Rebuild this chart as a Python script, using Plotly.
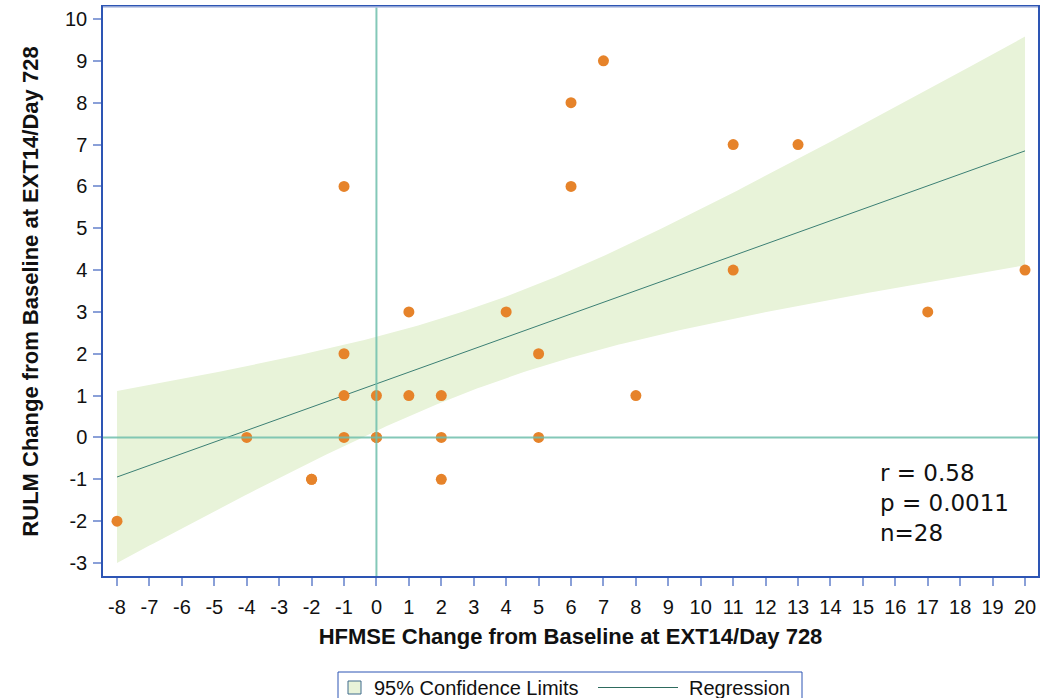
import numpy as np
import plotly.graph_objects as go

# HFMSE change (x) and RULM change (y), n = 28
hfmse = [-8, -4, -2, -2, -1, -1, -1, -1, 0, 0, 0, 1, 1, 2, 2, 2, 4, 5, 5, 6, 6, 7, 8, 11, 11, 13, 17, 20]
rulm = [-2, 0, -1, -1, 6, 2, 1, 0, 1, 0, 0, 3, 1, 1, 0, -1, 3, 2, 0, 8, 6, 9, 1, 7, 4, 7, 3, 4]
x_ticks = list(range(-8, 21))
y_ticks = list(range(-3, 11))
stats_text = ["r = 0.58", "p = 0.0011", "n=28"]
legend_labels = ["95% Confidence Limits", "Regression"]

T_975_DF26 = 2.0555  # Student t quantile for 95% CI, df = n - 2

BAND_COLOR = "#e8f3d9"
REG_COLOR = "#3b7f74"
AXIS_COLOR = "#2d55b4"

x = np.array(hfmse, dtype=float)
y = np.array(rulm, dtype=float)
n = len(x)
xbar, ybar = x.mean(), y.mean()
sxx = ((x - xbar) ** 2).sum()
sxy = ((x - xbar) * (y - ybar)).sum()
slope = sxy / sxx
intercept = ybar - slope * xbar
resid = y - (intercept + slope * x)
s = np.sqrt((resid ** 2).sum() / (n - 2))

xg = np.linspace(x.min(), x.max(), 200)
yg = intercept + slope * xg
se = s * np.sqrt(1.0 / n + (xg - xbar) ** 2 / sxx)
upper = yg + T_975_DF26 * se
lower = yg - T_975_DF26 * se

fig = go.Figure()
fig.add_trace(go.Scatter(
    x=np.concatenate([xg, xg[::-1]]), y=np.concatenate([upper, lower[::-1]]),
    fill="toself", fillcolor=BAND_COLOR, line=dict(width=0, color=BAND_COLOR),
    mode="lines", name=legend_labels[0], hoverinfo="skip", showlegend=False))
fig.add_trace(go.Scatter(
    x=xg, y=yg, mode="lines", line=dict(color=REG_COLOR, width=1),
    name=legend_labels[1], showlegend=False))
fig.add_trace(go.Scatter(
    x=hfmse, y=rulm, mode="markers",
    marker=dict(color="#e6832a", size=11), showlegend=False, name="Data"))

# reference lines at zero, drawn above the markers
fig.add_shape(type="line", xref="x domain", yref="y", x0=0, x1=1, y0=0, y1=0,
              line=dict(color="rgba(110,190,172,0.85)", width=2), layer="above")
fig.add_shape(type="line", xref="x", yref="y domain", x0=0, x1=0, y0=0, y1=1,
              line=dict(color="rgba(110,190,172,0.85)", width=2), layer="above")

# lighter top frame line
fig.add_shape(type="line", xref="paper", yref="paper", x0=0, x1=1, y0=1, y1=1,
              line=dict(color="#b4c0e2", width=1.5), layer="above")

fig.add_annotation(xref="paper", yref="paper", x=0.829, y=0.1283, xanchor="left", yanchor="middle",
                   text="<br>".join(stats_text), showarrow=False, align="left",
                   font=dict(family="DejaVu Sans", size=23, color="#111111"))

# legend box (drawn manually, in paper coordinates of a 935x569 plot area)
W, H, L, B = 935.0, 569.0, 103.0, 576.0
def px(xp):
    return (xp - L) / W
def py(yp):
    return (B - yp) / H

fig.add_shape(type="rect", xref="paper", yref="paper", x0=px(338), x1=px(802), y0=py(672), y1=py(710),
              line=dict(color=AXIS_COLOR, width=1), fillcolor="white")
fig.add_shape(type="rect", xref="paper", yref="paper", x0=px(348), x1=px(361), y0=py(681), y1=py(694),
              line=dict(color="#3f6a8c", width=1), fillcolor=BAND_COLOR)
fig.add_shape(type="line", xref="paper", yref="paper", x0=px(598), x1=px(678), y0=py(687.5), y1=py(687.5),
              line=dict(color="#2e6b5e", width=1))
legend_font = dict(family="Liberation Sans, Arial", size=20, color="#111111")
fig.add_annotation(xref="paper", yref="paper", x=px(372), y=py(688), xanchor="left", yanchor="middle",
                   text=legend_labels[0], showarrow=False, font=legend_font)
fig.add_annotation(xref="paper", yref="paper", x=px(687), y=py(688), xanchor="left", yanchor="middle",
                   text=legend_labels[1], showarrow=False, font=legend_font)

axis_font = dict(family="Liberation Sans, Arial", size=20, color="#111111")
title_font = dict(family="Liberation Sans, Arial", size=22, color="#111111", weight="bold")

fig.update_xaxes(range=[-8.432, 20.40], tickmode="array", tickvals=x_ticks,
                 ticktext=[str(v) for v in x_ticks],
                 showgrid=False, zeroline=False, showline=True, mirror=True,
                 linecolor=AXIS_COLOR, linewidth=1.5,
                 ticks="outside", ticklen=8, tickwidth=2, tickcolor="#8aa0d8",
                 tickfont=axis_font, ticklabelstandoff=4,
                 title=dict(text="<b>HFMSE Change from Baseline at EXT14/Day 728</b>",
                            font=title_font, standoff=12))
fig.update_yaxes(range=[-3.311, 10.287], tickmode="array", tickvals=y_ticks,
                 ticktext=[str(v) for v in y_ticks],
                 showgrid=False, zeroline=False, showline=True, mirror=True,
                 linecolor=AXIS_COLOR, linewidth=1.5,
                 ticks="outside", ticklen=8, tickwidth=2, tickcolor="#8aa0d8",
                 tickfont=axis_font, ticklabelstandoff=2,
                 title=dict(text="<b>RULM Change from Baseline at EXT14/Day 728</b>",
                            font=title_font, standoff=20))

fig.update_layout(
    width=1043, height=698,
    margin=dict(l=103, r=5, t=7, b=122, autoexpand=False),
    paper_bgcolor="white", plot_bgcolor="white",
    showlegend=False,
)

fig.write_html("out.html")
